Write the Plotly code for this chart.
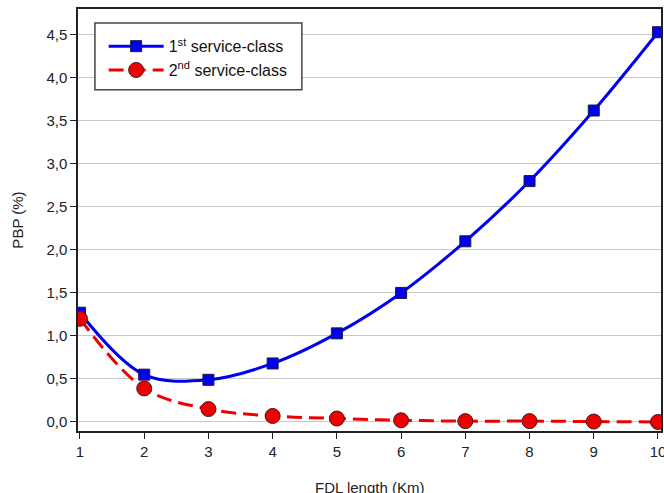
import plotly.graph_objects as go

fdl_length = [1, 2, 3, 4, 5, 6, 7, 8, 9, 10]
pbp_class1 = [1.27, 0.55, 0.49, 0.68, 1.03, 1.50, 2.10, 2.80, 3.62, 4.53]
pbp_class2 = [1.20, 0.39, 0.15, 0.07, 0.04, 0.02, 0.01, 0.01, 0.005, 0.0]
y_ticks = [0, 0.5, 1.0, 1.5, 2.0, 2.5, 3.0, 3.5, 4.0, 4.5]

fig = go.Figure()
fig.add_trace(go.Scatter(
    x=fdl_length, y=pbp_class1, mode="lines+markers",
    name="1<sup>st</sup> service-class",
    line=dict(color="#0000ee", width=3, shape="spline", smoothing=1.0),
    marker=dict(symbol="square", size=11, color="#0000ee",
                line=dict(color="#1a1a40", width=1)),
))
fig.add_trace(go.Scatter(
    x=fdl_length, y=pbp_class2, mode="lines+markers",
    name="2<sup>nd</sup> service-class",
    line=dict(color="#ee0000", width=3, dash="15px,7px", shape="spline", smoothing=1.0),
    marker=dict(symbol="circle", size=15, color="#ee0000",
                line=dict(color="#401a1a", width=1)),
))

fig.update_layout(
    width=664, height=493,
    margin=dict(l=78, r=3, t=9, b=62),
    paper_bgcolor="white", plot_bgcolor="white",
    separators=", ",
    font=dict(family="Liberation Sans, Arial, sans-serif", size=15, color="#222"),
    showlegend=True,
    legend=dict(
        x=0.044, y=0.952, xanchor="left", yanchor="top",
        bgcolor="rgba(0,0,0,0)", borderwidth=0,
        font=dict(size=16, color="#111"),
        tracegroupgap=0, itemwidth=55,
    ),
    xaxis=dict(
        range=[0.969, 10.047], tickvals=fdl_length,
        ticks="outside", ticklen=6, tickcolor="#222",
        showline=True, linecolor="#222", linewidth=1.5, mirror=True,
        showgrid=False, zeroline=False, ticklabeloverflow="allow",
        automargin=False,
    ),
    yaxis=dict(
        range=[-0.105, 4.80], tickvals=y_ticks, tickformat=".1f",
        ticks="outside", ticklen=6, tickcolor="#222",
        showline=True, linecolor="#222", linewidth=1.5, mirror=True,
        showgrid=True, gridcolor="#c8c8c8", gridwidth=1,
        zeroline=False,
        title=dict(text="PBP (%)", standoff=19, font=dict(size=15)),
        automargin=False,
    ),
)
# x-axis title (partly below the visible area, as in the reference)
fig.add_annotation(text="FDL length (Km)", xref="paper", yref="paper",
                   x=0.5, y=0, xanchor="center", yanchor="top", yshift=-46,
                   showarrow=False, font=dict(size=15, color="#222"))
# legend box
fig.add_shape(type="rect", xref="paper", yref="paper", x0=0.029, x1=0.384,
              y0=0.8085, y1=0.967, layer="above", fillcolor="white",
              line=dict(color="#444", width=1.5))

fig.write_html(
    "out.html",
    config={"displayModeBar": False},
    post_script="document.body.style.margin='0';document.body.style.overflow='hidden';",
)
